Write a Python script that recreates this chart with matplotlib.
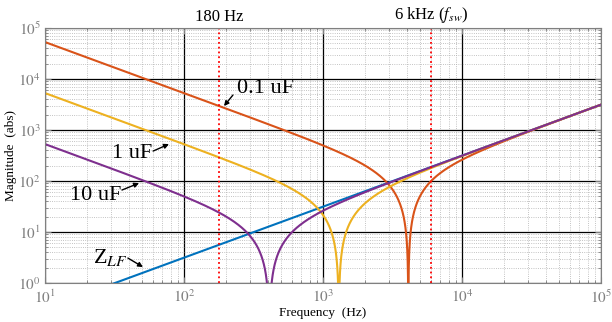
import matplotlib
matplotlib.use('Agg')
from matplotlib import pyplot as plt
from matplotlib.ticker import LogLocator, NullFormatter
import numpy as np

plt.rcParams['font.family'] = ['Liberation Serif', 'STIXGeneral', 'DejaVu Serif']
plt.rcParams['mathtext.fontset'] = 'stix'

# filter parameters
L_lf = 5e-3                       # H
caps = [0.1e-6, 1e-6, 10e-6]      # F, delta connected
cap_names = ['0.1 uF', '1 uF', '10 uF']
cap_colors = ['#D95319', '#EDB120', '#7E2F8E']
f_marks = [180, 6000]             # Hz
f_mark_text = ['180 Hz', r'6 kHz ($f_{sw}$)']

f = np.logspace(1, 5, 20000)


def z_lc(freq, C):
    w = 2 * np.pi * freq
    return np.abs(w * L_lf - 1 / (w * 3 * C))


fig = plt.figure(figsize=(6.12, 3.22), dpi=100)
ax = fig.add_axes([0.0735, 0.121, 0.9085, 0.792])

ax.plot(f, 2 * np.pi * f * L_lf, color='#0072BD', lw=1.5)
for C, col in zip(caps, cap_colors):
    f0 = 1 / (2 * np.pi * np.sqrt(L_lf * 3 * C))
    ff = np.sort(np.append(f, f0))
    z = z_lc(ff, C)
    z[np.isclose(ff, f0)] = 1e-3
    ax.plot(ff, z, color=col, lw=1.5)

ax.set_xscale('log')
ax.set_yscale('log')
ax.set_xlim(10, 1e5)
ax.set_ylim(1, 1e5)

ax.xaxis.set_minor_locator(LogLocator(base=10, subs=np.arange(2, 10)))
ax.yaxis.set_minor_locator(LogLocator(base=10, subs=np.arange(2, 10)))
ax.xaxis.set_minor_formatter(NullFormatter())
ax.yaxis.set_minor_formatter(NullFormatter())
ax.set_xticks([10, 100, 1000, 10000, 100000])
ax.set_xticklabels([r'$10^{1}$', r'$10^{2}$', r'$10^{3}$', r'$10^{4}$', r'$10^{5}$'])
ax.set_yticks([1, 10, 100, 1000, 10000, 100000])
ax.set_yticklabels([r'$10^{0}$', r'$10^{1}$', r'$10^{2}$', r'$10^{3}$', r'$10^{4}$', r'$10^{5}$'])

ax.grid(which='major', color='black', lw=0.9, ls='-')
ax.grid(which='minor', color='#b0b0b0', lw=0.6, ls=':')
ax.set_axisbelow(True)
ax.tick_params(which='both', direction='in', colors='#808080', labelsize=11, top=True, right=True)
ax.tick_params(which='major', length=4)
ax.tick_params(which='minor', length=2)
ax.tick_params(axis='x', pad=4)
ax.tick_params(axis='y', pad=3)
for s in ax.spines.values():
    s.set_color('#808080')

for fm, txt in zip(f_marks, f_mark_text):
    ax.axvline(fm, color='red', ls=':', lw=1.3)
    ax.text(fm, 1.012, txt, transform=ax.get_xaxis_transform(), ha='center', va='bottom', fontsize=12)

ax.set_xlabel('Frequency  (Hz)', fontsize=9.5)
ax.set_ylabel('Magnitude  (abs)', fontsize=9.5)
ax.xaxis.set_label_coords(0.5, -0.095)
ax.yaxis.set_label_coords(-0.05, 0.5)

# labels and arrows to each curve
arr = dict(arrowstyle='-|>', color='black', lw=1.0, mutation_scale=7, shrinkA=0, shrinkB=0)
ax.annotate('', xy=(194, 2950), xytext=(225, 4850), arrowprops=arr)
ax.text(240, 5300, cap_names[0], fontsize=16, ha='left', va='baseline')
ax.annotate('', xy=(78, 530), xytext=(60, 387), arrowprops=arr)
ax.text(59, 282, cap_names[1], fontsize=16, ha='right', va='baseline')
ax.annotate('', xy=(47.5, 91), xytext=(35.8, 66.6), arrowprops=arr)
ax.text(35.2, 42.4, cap_names[2], fontsize=16, ha='right', va='baseline')
ax.annotate('', xy=(50.7, 2.06), xytext=(39.5, 3.09), arrowprops=arr)
ax.text(22.1, 2.47, 'Z$_{LF}$', fontsize=16, ha='left', va='baseline')

fig.savefig('out.png', dpi=100)
